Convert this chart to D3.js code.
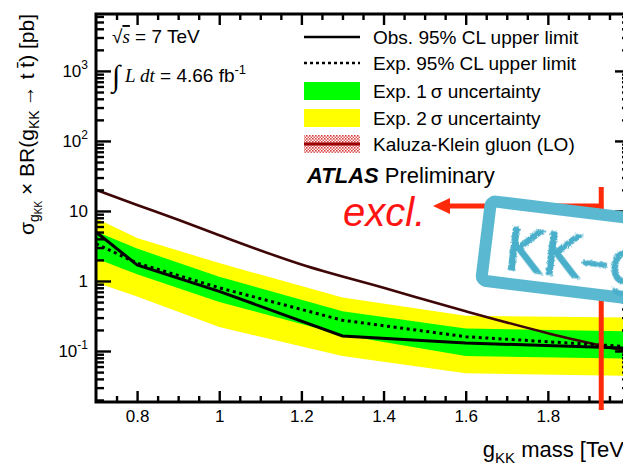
<!DOCTYPE html>
<html>
<head>
<meta charset="utf-8">
<script src="https://cdn.jsdelivr.net/npm/d3@7"></script>
<style>
  body { margin: 0; background: #fff; }
  svg { display: block; }
  text { font-family: "Liberation Sans", Arial, sans-serif; fill: #000; }
</style>
</head>
<body>
<svg></svg>
<script>
// limit points (TeV) and cross section limits (pb)
const masses = [0.7, 0.8, 1.0, 1.3, 1.6, 2.0];
const observed = [5.0, 1.7, 0.71, 0.164, 0.13, 0.11];
const expected = [3.4, 1.8, 0.80, 0.275, 0.16, 0.115];
const sigma1Up = [5.1, 2.9, 1.15, 0.37, 0.21, 0.19];
const sigma1Down = [2.1, 1.25, 0.50, 0.17, 0.085, 0.078];
const sigma2Up = [7.9, 4.1, 1.8, 0.58, 0.32, 0.30];
const sigma2Down = [0.95, 0.6, 0.22, 0.085, 0.048, 0.044];

// KK gluon LO prediction
const kkMasses = [0.7, 0.8, 0.9, 1.0, 1.2, 1.4, 1.6, 1.8, 2.0];
const kkXsec = [20, 12.2, 7.5, 4.5, 1.72, 0.80, 0.37, 0.18, 0.097];

const exclLimit = 1.93;

const xTicks = [0.8, 1, 1.2, 1.4, 1.6, 1.8, 2];
const xTickLabels = ["0.8", "1", "1.2", "1.4", "1.6", "1.8", ""];
const yTicks = [0.1, 1, 10, 100, 1000];
const yTickLabels = [["10", "-1"], ["1", ""], ["10", ""], ["10", "2"], ["10", "3"]];

const legendLabels = ["Obs. 95% CL upper limit", "Exp. 95% CL upper limit",
  "Exp. 1\u2009σ uncertainty", "Exp. 2\u2009σ uncertainty", "Kaluza-Klein gluon (LO)"];

const W = 623, H = 467;
const padL = 96, padR = 630, padT = 14, padB = 402;

const svg = d3.select("svg").attr("width", W).attr("height", H);

const x = d3.scaleLinear().domain([0.7, 2.0]).range([padL, padR]);
const y = d3.scaleLog().domain([0.0187, 6500]).range([padB, padT]);

const defs = svg.append("defs");
defs.append("clipPath").attr("id", "plot")
  .append("rect").attr("x", padL).attr("y", padT)
  .attr("width", padR - padL).attr("height", padB - padT);

const pat = defs.append("pattern").attr("id", "hatch")
  .attr("width", 3).attr("height", 3).attr("patternUnits", "userSpaceOnUse");
pat.append("rect").attr("width", 3).attr("height", 3).attr("fill", "#fff");
pat.append("rect").attr("width", 1.6).attr("height", 1.6).attr("fill", "#d84040");
pat.append("rect").attr("x", 1.5).attr("y", 1.5).attr("width", 1.5).attr("height", 1.5).attr("fill", "#e06060");

const rough = defs.append("filter").attr("id", "rough");
rough.append("feTurbulence").attr("type", "fractalNoise").attr("baseFrequency", 0.8).attr("numOctaves", 2).attr("result", "n");
rough.append("feDisplacementMap").attr("in", "SourceGraphic").attr("in2", "n").attr("scale", 4);

// bands and curves
const plot = svg.append("g").attr("clip-path", "url(#plot)");

const band = (lo, hi) => d3.area()
  .x((d, i) => x(masses[i]))
  .y0((d, i) => y(lo[i]))
  .y1((d, i) => y(hi[i]));

plot.append("path").datum(masses).attr("d", band(sigma2Down, sigma2Up)).attr("fill", "#ffff00");
plot.append("path").datum(masses).attr("d", band(sigma1Down, sigma1Up)).attr("fill", "#00ff00");

const line = (xs, ys) => d3.line().x((d, i) => x(xs[i])).y((d, i) => y(ys[i]));

plot.append("path").datum(kkMasses).attr("d", line(kkMasses, kkXsec).curve(d3.curveMonotoneX))
  .attr("fill", "none").attr("stroke", "#3e0606").attr("stroke-width", 2.6);
plot.append("path").datum(masses).attr("d", line(masses, expected))
  .attr("fill", "none").attr("stroke", "#000").attr("stroke-width", 3)
  .attr("stroke-dasharray", "3,3.6");
plot.append("path").datum(masses).attr("d", line(masses, observed))
  .attr("fill", "none").attr("stroke", "#000").attr("stroke-width", 3);

// axes: inward ticks on all four sides
const minorX = d3.range(15, 40).map(i => i * 0.05).filter(v => Math.abs(v * 5 - Math.round(v * 5)) > 1e-6);
const minorY = [];
for (let e = -2; e <= 3; e++) {
  for (let k = 2; k <= 9; k++) {
    const v = k * Math.pow(10, e);
    if (v > 0.0187 && v < 6500) minorY.push(v);
  }
}

function styleAxis(g) {
  g.select(".domain").remove();
  g.selectAll(".tick line").attr("stroke", "#000").attr("stroke-width", 2.4);
  g.selectAll("text").style("font-size", "17px").style("font-family", "Liberation Sans, Arial, sans-serif");
}

svg.append("g").attr("transform", `translate(0,${padB})`)
  .call(d3.axisBottom(x).tickValues(xTicks).tickSize(-11).tickPadding(8)
    .tickFormat((d, i) => xTickLabels[i]))
  .call(styleAxis);
svg.append("g").attr("transform", `translate(0,${padB})`)
  .call(d3.axisBottom(x).tickValues(minorX).tickSize(-6).tickFormat(""))
  .call(styleAxis);
svg.append("g").attr("transform", `translate(0,${padT})`)
  .call(d3.axisTop(x).tickValues(xTicks).tickSize(-11).tickFormat(""))
  .call(styleAxis);
svg.append("g").attr("transform", `translate(0,${padT})`)
  .call(d3.axisTop(x).tickValues(minorX).tickSize(-6).tickFormat(""))
  .call(styleAxis);

svg.append("g").attr("transform", `translate(${padL},0)`)
  .call(d3.axisLeft(y).tickValues(yTicks).tickSize(-15).tickFormat(""))
  .call(styleAxis);
svg.append("g").attr("transform", `translate(${padL},0)`)
  .call(d3.axisLeft(y).tickValues(minorY).tickSize(-8).tickFormat(""))
  .call(styleAxis);
svg.append("g").attr("transform", `translate(${padR},0)`)
  .call(d3.axisRight(y).tickValues(yTicks).tickSize(-15).tickFormat(""))
  .call(styleAxis);
svg.append("g").attr("transform", `translate(${padR},0)`)
  .call(d3.axisRight(y).tickValues(minorY).tickSize(-8).tickFormat(""))
  .call(styleAxis);

svg.append("rect").attr("x", padL).attr("y", padT)
  .attr("width", padR - padL).attr("height", padB - padT)
  .attr("fill", "none").attr("stroke", "#000").attr("stroke-width", 3);

// y tick labels with exponents
yTicks.forEach((v, i) => {
  const t = svg.append("text").attr("x", 88).attr("y", y(v) + 6)
    .attr("text-anchor", "end").style("font-size", "17px");
  t.append("tspan").text(yTickLabels[i][0]);
  if (yTickLabels[i][1]) t.append("tspan").attr("dy", -8).style("font-size", "12px").text(yTickLabels[i][1]);
});

// axis titles
const yt = svg.append("text").attr("transform", "translate(34,14) rotate(-90)")
  .attr("text-anchor", "end").style("font-size", "21px");
yt.append("tspan").text("σ");
yt.append("tspan").attr("dy", 5).style("font-size", "14px").text("g");
yt.append("tspan").attr("dy", 3).style("font-size", "10px").text("KK");
yt.append("tspan").attr("dy", -8).text(" × BR(g");
yt.append("tspan").attr("dy", 5).style("font-size", "14px").text("KK");
yt.append("tspan").attr("dy", -5).text("\u2009→ t t\u0304) [pb]");

const xt = svg.append("text").attr("x", padR).attr("y", 457)
  .attr("text-anchor", "end").style("font-size", "22px");
xt.append("tspan").text("g");
xt.append("tspan").attr("dy", 6).style("font-size", "15px").text("KK");
xt.append("tspan").attr("dy", -6).text(" mass [TeV]");

// legend
const lx0 = 304, lx1 = 360, ltx = 373;
const rowY = [37, 63, 91, 118, 144];
svg.append("line").attr("x1", lx0).attr("x2", lx1).attr("y1", rowY[0]).attr("y2", rowY[0])
  .attr("stroke", "#000").attr("stroke-width", 2.6);
svg.append("line").attr("x1", lx0).attr("x2", lx1).attr("y1", rowY[1]).attr("y2", rowY[1])
  .attr("stroke", "#000").attr("stroke-width", 2.6).attr("stroke-dasharray", "3,3");
svg.append("rect").attr("x", lx0).attr("y", rowY[2] - 9).attr("width", lx1 - lx0).attr("height", 18).attr("fill", "#00ff00");
svg.append("rect").attr("x", lx0).attr("y", rowY[3] - 9).attr("width", lx1 - lx0).attr("height", 18).attr("fill", "#ffff00");
svg.append("rect").attr("x", lx0).attr("y", rowY[4] - 9).attr("width", lx1 - lx0).attr("height", 18).attr("fill", "url(#hatch)");
svg.append("line").attr("x1", lx0).attr("x2", lx1).attr("y1", rowY[4]).attr("y2", rowY[4])
  .attr("stroke", "#9a0000").attr("stroke-width", 3);
legendLabels.forEach((s, i) => {
  svg.append("text").attr("x", ltx).attr("y", rowY[i] + 7).style("font-size", "19px").text(s);
});

const atlas = svg.append("text").attr("x", 307).attr("y", 183).style("font-size", "22px");
atlas.append("tspan").style("font-weight", "bold").style("font-style", "italic").text("ATLAS");
atlas.append("tspan").text(" Preliminary");

const rs = svg.append("text").attr("x", 112).attr("y", 43).style("font-size", "19px");
rs.append("tspan").text("√");
rs.append("tspan").style("font-family", "Liberation Serif, serif").style("font-style", "italic")
  .style("text-decoration", "overline").text("s");
rs.append("tspan").text(" = 7 TeV");

const lumi = svg.append("text").attr("x", 112).attr("y", 82).style("font-size", "19px");
lumi.append("tspan").style("font-family", "Liberation Serif, serif").style("font-size", "30px").attr("dy", 4).text("∫");
lumi.append("tspan").attr("dy", -4).style("font-family", "Liberation Serif, serif").style("font-style", "italic").text(" L dt");
lumi.append("tspan").text(" = 4.66 fb");
lumi.append("tspan").attr("dy", -8).style("font-size", "13px").text("-1");

// hand-drawn annotations
const red = "#ff2a0a";
const xe = x(exclLimit);
svg.append("line").attr("x1", xe).attr("x2", xe).attr("y1", 187).attr("y2", 410)
  .attr("stroke", red).attr("stroke-width", 5);
svg.append("line").attr("x1", xe + 2).attr("x2", 446).attr("y1", 206).attr("y2", 206)
  .attr("stroke", red).attr("stroke-width", 5);
svg.append("path").attr("d", `M433,206 L450,198 L450,214 Z`).attr("fill", red);
svg.append("text").attr("x", 343).attr("y", 226)
  .style("font-size", "40px").style("font-style", "italic").style("fill", "#ff1414").text("excl.");

const sign = svg.append("g").attr("transform", "translate(491,201) rotate(7)");
sign.append("rect").attr("x", 0).attr("y", 0).attr("width", 240).attr("height", 80).attr("rx", 5)
  .attr("fill", "#fff").attr("stroke", "#5ab9d1").attr("stroke-width", 12);
sign.append("text").attr("x", 20).attr("y", 66).attr("filter", "url(#rough)")
  .style("font-size", "58px").style("fill", "#4aafca").style("stroke", "#4aafca").style("stroke-width", 1.2)
  .style("font-family", "DejaVu Sans, sans-serif")
  .text("KK–gluon");
</script>
</body>
</html>
